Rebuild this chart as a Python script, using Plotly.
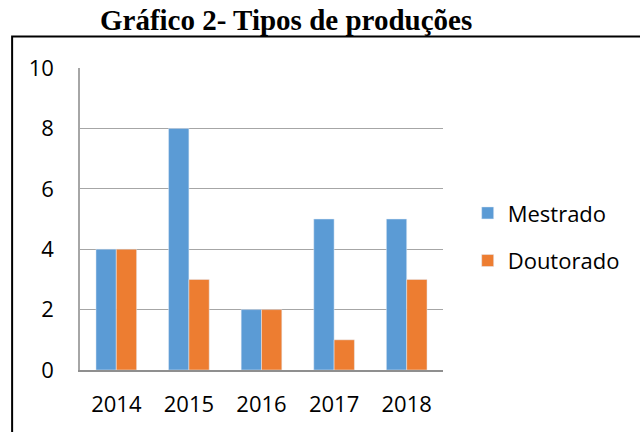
import plotly.graph_objects as go

years = ["2014", "2015", "2016", "2017", "2018"]
mestrado = [4, 8, 2, 5, 5]
doutorado = [4, 3, 2, 1, 3]

fig = go.Figure()
fig.add_bar(x=years, y=mestrado, name="Mestrado", marker_color="#5B9BD5", legendgroup="m")
fig.add_bar(x=years, y=doutorado, name="Doutorado", marker_color="#ED7D31", legendgroup="d")

font_family = "Open Sans, Liberation Sans, sans-serif"
fig.update_layout(
    width=640, height=432,
    margin=dict(l=80, r=197, t=68, b=62),
    paper_bgcolor="white", plot_bgcolor="white",
    barmode="group", bargap=0.44, bargroupgap=0,
    title=dict(text="<b>Gráfico 2- Tipos de produções</b>", x=0.447, xanchor="center",
               xref="container", yref="container",
               y=0.953, yanchor="middle",
               font=dict(family="Liberation Serif, serif", size=29, color="black")),
    legend=dict(x=1.068, y=0.44, xanchor="left", yanchor="middle",
                font=dict(family=font_family, size=22, color="black"),
                traceorder="grouped", tracegroupgap=16, itemwidth=30),
    xaxis=dict(showline=True, linecolor="#8F8F8F", linewidth=1.5, ticks="",
               tickfont=dict(family=font_family, size=22, color="black"),
               ticklabelstandoff=14, showgrid=False),
    yaxis=dict(range=[0, 10], dtick=2, showgrid=True, gridcolor="#A6A6A6", gridwidth=1.2,
               showline=True, linecolor="#A6A6A6", linewidth=1.5, zeroline=False,
               tickfont=dict(family=font_family, size=22, color="black"),
               ticklabelstandoff=20, ticks=""),
    shapes=[dict(type="rect", xref="paper", yref="paper",
                 x0=-0.187, x1=1.8, y0=-0.4, y1=1.104,
                 line=dict(color="black", width=2), fillcolor="rgba(0,0,0,0)")],
)
fig.write_html("out.html", config={"displayModeBar": False},
               post_script="document.body.style.margin='0';document.body.style.overflow='hidden';")
